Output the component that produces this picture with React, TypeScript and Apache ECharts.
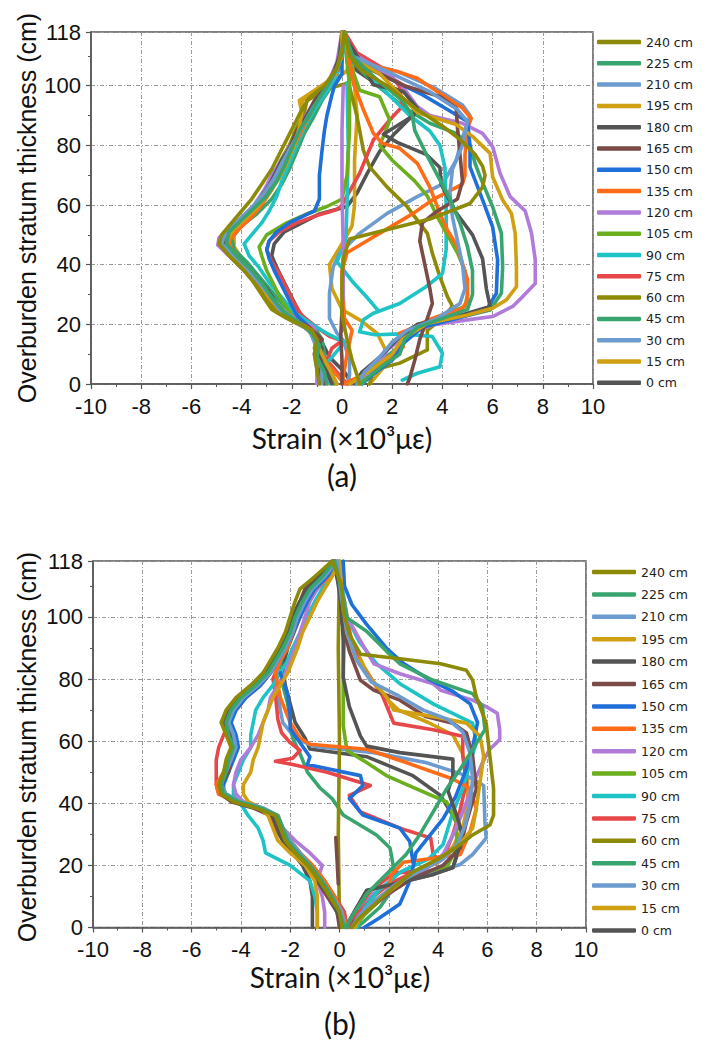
import React, { useEffect, useRef } from 'react';
import * as echarts from 'echarts';

const NAMES = ['0 cm','15 cm','30 cm','45 cm','60 cm','75 cm','90 cm','105 cm','120 cm','135 cm','150 cm','165 cm','180 cm','195 cm','210 cm','225 cm','240 cm'];
const COLORS = ['#545454','#D09F12','#6C9BD0','#38A56E','#8C8A06','#E8474A','#1DC3C5','#6BAF1E','#B17BDA','#FF6B17','#1F6FD8','#7A4B47','#545454','#D09F12','#6C9BD0','#38A56E','#8C8A06'];
const X_TICKS = [-10, 10, 2];
const Y_TICKS = [0, 118, 20];

// ---------------- Panel (a): [strain, height] ----------------
const a0 = [[0.4,0],[0.1,4],[-0.5,9],[-0.8,14],[-1.2,19],[-1.7,24],[-2.0,29],[-2.3,34],[-2.6,39],[-2.8,43],[-2.7,47],[-2.3,51],[-1.6,54],[-0.9,57],[0.2,59.5],[0.6,64],[1.0,70.5],[1.5,78],[2.1,84],[2.7,89],[2.9,93],[2.5,98],[1.3,101],[0.6,105],[0.2,110],[0.0,118]];
const a15 = [[-0.6,0],[-0.8,5],[-1.0,10],[-0.9,15],[-1.3,19],[-2.0,22],[-2.6,26],[-3.0,31],[-3.4,36],[-3.9,41],[-4.3,46],[-4.3,50],[-3.9,54],[-3.4,58],[-3.0,63],[-2.6,68],[-2.3,73],[-1.9,79],[-1.6,84],[-1.5,90],[-1.6,95],[-1.0,98],[-0.3,102],[0.2,105],[0.3,110],[0.1,118],[0.4,108],[0.5,100],[0.6,90],[0.5,75],[0.5,60],[0.4,53],[0.0,47],[-0.5,40],[-0.4,32],[0.0,25],[0.8,21],[1.4,17],[1.7,12],[1.8,7],[1.4,3],[1.1,0]];
const a30 = [[-0.5,0],[-0.7,5],[-0.9,10],[-1.0,15],[-1.4,19],[-2.1,23],[-2.7,27],[-3.1,32],[-3.6,37],[-4.1,42],[-4.6,46],[-4.6,49],[-4.2,53],[-3.6,57],[-3.1,62],[-2.7,67],[-2.3,72],[-2.0,78],[-1.6,84],[-1.2,90],[-0.8,96],[-0.4,101],[-0.1,107],[0.0,112],[0.1,118],[0.4,112],[0.7,108],[2.2,104.8],[3.75,99],[4.8,93.5],[5.1,90],[4.8,82.6],[4.55,75],[4.0,67],[3.0,62.8],[1.8,57.2],[0.7,50.5],[-0.1,43.8],[-0.35,39.3],[-0.5,30.4],[-0.5,22],[-0.2,17],[0.05,14.7],[0.3,8],[0.3,3],[0.2,0]];
const a45 = [[-0.3,0],[-0.6,5],[-0.7,10],[-0.8,15],[-1.1,19],[-1.7,22],[-2.3,26],[-2.8,31],[-3.3,36],[-3.8,41],[-4.3,45],[-4.4,49],[-4.0,53],[-3.4,57],[-2.8,62],[-2.4,67],[-2.1,72],[-1.8,78],[-1.5,84],[-1.1,90],[-0.8,95],[-0.4,100],[-0.1,106],[0.0,112],[0.1,118],[0.2,110],[1.25,101],[2.6,92],[3.5,87.4],[4.55,84],[5.1,80],[5.3,74],[5.5,69.5],[6.0,59.4],[6.35,50.5],[6.4,39.3],[6.35,30.4],[5.9,24.8],[5.0,23],[3.5,20.5],[2.6,17],[2.2,12],[1.6,8],[0.9,3],[0.6,0]];
const a60 = [[-0.9,0],[-1.0,4],[-0.8,8],[-1.1,12],[-1.0,16],[-1.5,19],[-2.2,22],[-2.8,25],[-3.2,30],[-3.6,35],[-4.1,40],[-4.6,44],[-4.8,47],[-4.4,51],[-3.9,55],[-3.5,59],[-3.1,64],[-2.8,69],[-2.5,74],[-2.1,80],[-1.8,86],[-1.5,91],[-1.4,95],[-0.6,99],[0.3,101],[0.2,108],[0.1,118],[0.3,105],[0.3,99.7],[0.6,89.6],[0.85,78.4],[1.1,72.8],[1.8,66],[2.6,59.4],[3.4,50.5],[3.6,43.8],[3.9,36],[4.2,29.3],[4.4,26],[4.0,22],[3.4,18],[3.4,11.4],[2.3,7],[1.25,4.7],[1.1,0]];
const a75 = [[0.2,0],[-0.2,4],[-0.6,8],[-0.4,12],[0.0,14.5],[-0.5,16],[-1.0,19],[-1.6,23],[-1.9,27],[-2.2,32],[-2.5,37],[-2.8,41],[-3.0,45],[-2.9,48],[-2.5,51],[-1.8,54],[-1.0,56.5],[-0.2,58.5],[0.0,60],[0.7,70.6],[1.25,81.8],[1.9,88.5],[2.4,93],[2.3,99.7],[1.8,105],[0.6,111],[0.1,118]];
const a90 = [[-0.7,0],[-0.9,4],[-0.5,8],[-0.2,11],[0.1,14],[-0.6,17],[-1.2,20],[-1.9,24],[-2.4,29],[-2.9,34],[-3.3,39],[-3.7,43],[-3.9,47],[-3.6,50],[-3.2,54],[-2.9,58],[-2.6,63],[-2.4,68],[-2.1,74],[-1.8,80],[-1.5,86],[-1.1,92],[-0.7,97],[-0.3,102],[0.0,108],[0.1,118],[0.5,108],[1.5,100],[2.7,90],[3.5,84.8],[3.9,80],[4.1,72.6],[4.15,60],[4.15,45],[4.0,37],[3.35,32.6],[2.3,27],[1.25,23.7],[0.85,21.5],[0.7,17.5],[1.3,16.5],[2.4,16.8],[3.6,15.9],[4.0,10.3],[3.9,5.8],[3.0,3.6],[2.4,1.3]];
const a90v = [[0.2,101],[0.25,80],[0.2,60],[0.15,48],[-0.2,41],[0.45,34],[1.0,29],[1.4,25]];
const a105 = [[-0.3,0],[-0.7,5],[-0.9,10],[-1.1,15],[-1.4,19],[-2.0,23],[-2.4,28],[-2.7,33],[-3.0,38],[-3.2,43],[-3.3,46],[-3.0,50],[-2.2,54],[-1.4,57],[-0.6,59.5],[0.0,62],[0.2,70],[0.3,85],[0.3,100],[0.2,110],[0.1,118],[0.3,108],[0.7,98.5],[1.5,96.3],[1.9,88.5],[1.7,84],[1.5,80],[2.0,75],[2.9,68],[3.4,63],[3.8,56],[4.2,50],[4.6,44],[4.9,38],[5.0,30],[4.9,26],[3.8,22.5],[2.8,19],[2.0,14],[1.6,9],[1.0,4],[0.7,0]];
const a120 = [[-1.0,0],[-1.0,5],[-1.1,10],[-1.0,15],[-1.1,19],[-1.6,21],[-2.3,24],[-2.8,28],[-3.3,33],[-3.9,38],[-4.5,43],[-4.95,46.5],[-4.9,49],[-4.5,52],[-4.0,56],[-3.5,60],[-3.1,65],[-2.8,70],[-2.4,75],[-2.0,81],[-1.7,86],[-1.3,92],[-0.9,97],[-0.5,102],[-0.2,108],[0.0,118],[0.6,110],[2.3,101],[3.0,93],[3.5,90],[4.8,87.4],[5.6,84],[6.0,79.6],[6.3,70.6],[6.7,62.8],[7.3,58],[7.55,50.5],[7.7,41.6],[7.7,33.7],[7.2,29.3],[6.8,26],[6.0,22.6],[5.0,21.5],[3.6,19.8],[2.5,16],[1.8,11.4],[1.4,5.8],[0.6,1.3],[0.3,0]];
const a120v = [[0.05,100],[0.0,85],[0.0,65],[0.05,45],[0.05,30],[0.1,18]];
const a135 = [[0.1,0],[-0.3,4],[-0.7,8],[-0.9,12],[-1.0,16],[-1.4,19],[-2.0,22],[-2.6,25],[-3.0,30],[-3.4,35],[-3.9,40],[-4.4,45],[-4.5,48],[-4.1,52],[-3.6,56],[-3.2,60],[-2.8,65],[-2.5,70],[-2.2,75],[-1.9,80],[-1.6,85],[-1.3,90],[-1.0,95],[-0.6,100],[-0.2,106],[0.0,112],[0.1,118],[0.3,108],[0.45,101],[0.85,92],[1.25,84],[1.6,80.7],[2.3,79],[3.0,74],[3.5,66],[3.9,57.2],[4.2,51.6],[4.6,46],[4.8,40.4],[5.0,35],[5.0,28],[4.8,25.4],[3.6,22],[2.8,18.7],[2.3,17],[2.45,12.5],[1.8,8],[0.7,2.5],[0.05,0]];
const a135b = [[0.1,117],[0.3,110],[0.85,107.5],[2.2,104.8],[3.0,102.5],[3.9,97.5],[4.8,92.5],[5.15,89],[5.0,86],[4.9,77],[4.9,70],[4.8,67],[3.6,61.7],[2.84,57.2],[2.0,53],[1.0,48],[0.2,44],[0.0,38],[0.0,30],[0.1,22],[0.4,18],[0.2,10],[0.0,0]];
const a150 = [[-0.2,0],[-0.5,5],[-0.8,10],[-1.0,15],[-1.3,19],[-1.8,23],[-2.1,28],[-2.4,33],[-2.7,38],[-2.9,42],[-3.0,45],[-2.9,48],[-2.6,51],[-2.1,54],[-1.6,56],[-1.1,58],[-0.9,62],[-0.9,70],[-0.8,78],[-0.7,85],[-0.6,90],[-0.4,97],[-0.3,100],[0.0,104],[0.0,110],[0.0,118],[0.4,110],[1.5,104],[3.2,97],[4.2,92],[5.0,88],[5.1,80],[5.1,72.8],[5.6,61.7],[6.0,52.7],[6.2,41.6],[6.15,30.4],[5.75,24.8],[4.6,22],[3.2,19],[2.5,14],[2.0,8],[1.2,3],[0.8,0]];
const a165 = [[-0.7,0],[-0.9,4],[-0.8,8],[-1.0,12],[-0.8,15],[-1.3,19],[-2.0,22],[-2.5,25],[-2.8,29],[-3.2,34],[-3.7,39],[-4.2,43],[-4.7,46],[-4.6,50],[-4.1,54],[-3.6,58],[-3.2,63],[-2.8,68],[-2.5,73],[-2.1,79],[-1.8,85],[-1.4,90],[-1.1,95],[-0.6,100],[-0.2,105],[0.0,110],[0.0,118],[0.5,108],[2.55,99.8],[3.9,96.4],[4.55,92.5],[4.6,86],[4.7,77],[4.8,68],[4.6,62],[3.8,58],[3.2,54],[3.1,48],[3.3,40],[3.5,32],[3.6,27],[3.4,22],[3.1,15],[2.9,8],[2.7,2],[2.6,0]];
const a165v = [[0.0,0],[0.0,8],[-0.05,16],[0.0,25]];
const a180 = [[-0.4,0],[-0.6,4],[-0.9,8],[-0.8,12],[-1.1,16],[-1.6,20],[-2.2,23],[-2.6,27],[-3.0,32],[-3.5,37],[-4.0,41],[-4.5,45],[-4.7,48],[-4.4,52],[-3.9,56],[-3.4,60],[-3.0,65],[-2.7,70],[-2.4,75],[-2.0,80],[-1.7,85],[-1.4,90],[-1.0,95],[-0.6,100],[-0.3,105],[-0.1,110],[0.0,118],[0.6,110],[1.25,100.3],[2.45,98],[3.0,92.5],[2.85,90],[1.65,83.7],[2.2,81],[3.35,77],[3.9,72.6],[3.95,67],[4.5,58],[5.2,50],[5.6,42],[5.75,32],[5.9,26],[4.5,22.5],[3.0,20],[2.2,15],[1.5,9],[0.8,4],[0.5,0]];
const a195 = [[-0.2,0],[-0.5,5],[-0.8,10],[-1.0,14],[-1.2,18],[-1.8,21],[-2.4,24],[-2.9,29],[-3.3,34],[-3.8,39],[-4.3,43],[-4.6,47],[-4.4,51],[-3.9,55],[-3.4,59],[-2.9,64],[-2.5,69],[-2.2,74],[-1.9,80],[-1.7,86],[-1.6,91],[-1.7,95],[-1.0,99],[-0.3,103],[0.0,110],[0.0,118],[0.3,110],[1.5,104],[3.0,91],[4.55,87],[5.2,83],[5.9,77.3],[6.0,69.5],[6.4,61.7],[6.75,57.2],[6.9,50.5],[6.95,39.3],[6.95,32.6],[6.55,28.2],[6.0,25.4],[5.0,23.1],[3.4,20.3],[2.4,15],[2.0,10],[1.2,5],[0.5,1],[0.3,0]];
const a210 = [[-0.8,0],[-0.8,5],[-1.0,9],[-1.1,14],[-1.3,18],[-1.9,21],[-2.5,25],[-2.9,30],[-3.4,35],[-3.9,40],[-4.4,44],[-4.8,47],[-4.6,51],[-4.1,55],[-3.6,59],[-3.1,64],[-2.7,69],[-2.4,74],[-2.0,80],[-1.6,86],[-1.2,92],[-0.8,97],[-0.4,102],[-0.1,108],[0.1,118],[0.4,110],[2.0,104],[3.5,98],[4.6,92],[5.0,88],[4.8,80],[4.4,72],[4.3,64],[4.4,56],[4.6,48],[4.8,40],[4.9,32],[4.7,27],[3.8,22],[2.6,18],[2.0,14],[1.5,9],[0.9,4],[0.6,0]];
const a225 = [[-0.6,0],[-0.7,4],[-1.0,9],[-0.9,13],[-1.2,17],[-1.6,20],[-2.3,24],[-2.8,29],[-3.2,34],[-3.7,39],[-4.2,43],[-4.6,47],[-4.5,51],[-4.0,55],[-3.5,59],[-3.0,63],[-2.6,68],[-2.3,73],[-2.0,79],[-1.7,85],[-1.3,90],[-0.9,96],[-0.5,101],[-0.2,106],[0.0,111],[0.1,118],[0.4,110],[1.4,102],[2.4,95],[2.8,90],[2.9,85],[3.3,78],[3.8,70],[4.3,62],[4.7,54],[5.0,46],[5.2,38],[5.2,30],[5.0,25],[4.0,22],[3.0,19],[2.5,15],[2.3,10],[1.6,6],[1.0,2],[0.8,0]];
const a240 = [[-0.9,0],[-1.0,5],[-1.1,10],[-1.0,15],[-1.2,18],[-1.9,21],[-2.6,24],[-3.0,28],[-3.4,33],[-3.9,38],[-4.5,43],[-4.9,47],[-4.8,50],[-4.4,54],[-4.0,58],[-3.6,62],[-3.2,67],[-2.8,72],[-2.5,77],[-2.2,82],[-1.9,87],[-1.6,92],[-1.3,96],[-0.7,100],[-0.2,106],[0.0,112],[0.1,118],[0.3,110],[0.8,105],[1.8,100],[3.0,92],[4.0,86.5],[4.7,82],[5.3,77],[5.6,73],[5.7,70],[5.6,66],[5.1,60.5],[3.5,55.3],[1.9,52],[0.3,48.6],[0.05,42],[0.0,35],[0.0,23],[0.2,15],[0.4,8],[0.6,3],[0.7,0]];

// ---------------- Panel (b) ----------------
const HB = [0,5,10,15,20,24,28,32,36,38.5,40.5,43,46,50,54,58,62,66,70,74,78,82,86,90,95,100,105,109,113,118];
const bL0 = [-1.1,-1.1,-1.1,-1.2,-1.5,-1.9,-2.3,-2.5,-2.7,-3.4,-4.3,-4.8,-4.9,-4.6,-4.5,-4.3,-4.5,-4.7,-4.5,-4.1,-3.5,-3.0,-2.7,-2.4,-2.1,-1.9,-1.6,-1.3,-0.8,-0.2];
const bL15 = [0.2,0.0,-0.3,-0.8,-1.3,-1.8,-2.2,-2.4,-2.6,-3.3,-4.2,-4.7,-4.8,-4.6,-4.4,-4.2,-4.3,-4.5,-4.3,-3.9,-3.3,-2.8,-2.5,-2.2,-1.9,-1.7,-1.5,-1.2,-0.7,-0.2];
const bL30 = [0.1,-0.1,-0.4,-0.8,-1.3,-1.8,-2.2,-2.4,-2.6,-3.3,-4.2,-4.8,-4.9,-4.7,-4.5,-4.3,-4.4,-4.6,-4.4,-4.0,-3.4,-2.9,-2.6,-2.3,-2.0,-1.8,-1.5,-1.2,-0.7,-0.2];
const bL45 = [0.3,0.1,-0.2,-0.7,-1.2,-1.7,-2.1,-2.4,-2.6,-3.3,-4.2,-4.8,-4.9,-4.7,-4.5,-4.3,-4.5,-4.7,-4.5,-4.1,-3.5,-3.0,-2.7,-2.4,-2.1,-1.9,-1.6,-1.3,-0.8,-0.2];
const bL75 = [0.3,0.2,-0.2,-0.6,-1.1,-1.6,-2.0,-2.3,-2.5,-3.2,-4.2,-4.9,-5.0,-5.0,-5.0,-4.9,-4.7,-4.5,-4.2,-3.8,-3.2,-2.8,-2.5,-2.2,-1.9,-1.7,-1.4,-1.2,-0.7,-0.2];
const bL90 = [-0.9,-0.9,-1.0,-1.2,-2.0,-3.0,-3.1,-3.3,-3.7,-3.9,-4.1,-4.3,-4.3,-4.1,-3.9,-3.6,-3.6,-3.5,-3.4,-3.1,-2.7,-2.4,-2.1,-1.9,-1.6,-1.3,-1.0,-0.7,-0.4,-0.1];
const bL120 = [-0.6,-0.6,-0.7,-0.9,-0.7,-1.2,-1.8,-2.3,-2.7,-3.2,-3.9,-4.2,-4.3,-4.2,-4.0,-3.6,-3.3,-3.1,-2.9,-2.8,-2.5,-2.2,-2.0,-1.8,-1.6,-1.4,-1.2,-0.9,-0.5,-0.1];
const bL135 = [0.3,0.1,-0.2,-0.6,-1.1,-1.6,-2.0,-2.3,-2.6,-3.3,-4.3,-4.9,-5.0,-4.7,-4.5,-4.3,-4.5,-4.7,-4.5,-4.1,-3.5,-3.0,-2.7,-2.4,-2.1,-1.8,-1.5,-1.2,-0.7,-0.2];
const bL150 = [0.2,0.0,-0.3,-0.8,-1.3,-1.8,-2.2,-2.4,-2.6,-3.3,-4.2,-4.7,-4.7,-4.5,-4.3,-4.1,-4.2,-4.4,-4.2,-3.8,-3.2,-2.8,-2.5,-2.2,-1.9,-1.6,-1.3,-1.0,-0.5,0.15];
const bL165 = [0.0,-0.1,-0.5,-0.9,-1.4,-1.9,-2.3,-2.6,-2.8,-3.5,-4.4,-4.8,-4.8,-4.5,-4.4,-4.2,-4.4,-4.7,-4.5,-4.1,-3.5,-3.0,-2.7,-2.4,-2.1,-1.9,-1.6,-1.4,-0.9,-0.3];
const bL180 = [0.1,-0.1,-0.4,-0.9,-1.4,-1.9,-2.3,-2.5,-2.7,-3.3,-4.2,-4.7,-4.8,-4.6,-4.5,-4.3,-4.4,-4.6,-4.4,-4.0,-3.5,-3.0,-2.7,-2.4,-2.1,-1.9,-1.6,-1.3,-0.8,-0.2];
const bL195 = [-0.9,-0.9,-0.9,-1.0,-1.4,-2.0,-2.5,-2.7,-2.9,-3.2,-3.7,-3.9,-3.9,-3.6,-3.5,-3.3,-3.2,-3.1,-2.9,-2.7,-2.4,-2.1,-1.9,-1.7,-1.5,-1.2,-0.9,-0.6,-0.3,0.0];
const bL210 = [0.2,0.1,-0.3,-0.7,-1.2,-1.6,-2.0,-2.3,-2.5,-3.1,-4.0,-4.6,-4.8,-4.6,-4.4,-4.2,-4.3,-4.5,-4.3,-3.9,-3.3,-2.8,-2.5,-2.2,-1.9,-1.7,-1.4,-1.1,-0.6,-0.1];
const bL225 = [0.2,0.0,-0.3,-0.7,-1.2,-1.7,-2.1,-2.3,-2.5,-3.2,-4.1,-4.7,-4.8,-4.6,-4.5,-4.3,-4.5,-4.6,-4.4,-4.0,-3.4,-2.9,-2.6,-2.3,-2.0,-1.8,-1.5,-1.2,-0.7,-0.2];
const bL240 = [0.1,0.0,-0.4,-0.8,-1.3,-1.8,-2.2,-2.4,-2.6,-3.4,-4.3,-4.8,-4.9,-4.7,-4.6,-4.4,-4.6,-4.8,-4.6,-4.2,-3.6,-3.1,-2.8,-2.5,-2.2,-2.0,-1.8,-1.6,-1.0,-0.3];

const bR0 = [[-0.2,118],[-0.6,112],[-1.1,107],[-1.5,102],[-1.8,96],[-2.1,90],[-2.3,84],[-2.2,78],[-2.0,72],[-1.8,66],[-1.4,61],[-1.2,57.5],[1.1,55],[2.95,49],[4.1,42.5],[4.6,36],[5.0,30],[4.8,24],[4.6,19.3],[3.8,17.1],[2.7,15],[1.1,11.9],[0.4,2.3],[0.3,0]];
const bR15 = [[-0.2,118],[0.2,105],[0.5,92],[1.0,84],[1.6,76],[2.4,70],[3.6,66],[4.6,62],[5.0,56],[5.2,48],[5.2,40],[5.0,32],[4.6,26],[4.0,21],[3.1,18],[2.3,14],[1.5,9],[0.8,4],[0.5,0]];
const bR30 = [[-0.2,118],[-0.5,112],[-1.1,108],[-1.5,103],[-1.8,97],[-2.1,91],[-2.4,86],[-2.6,81],[-2.5,76],[-2.4,70],[-2.3,66],[-1.8,61],[-1.05,58.4],[1.4,56.3],[3.5,53.1],[5.15,48.9],[5.85,45.7],[5.9,34],[5.95,28.8],[5.4,23.5],[4.9,20.3],[3.5,17],[2.4,15],[1.4,11],[0.7,5],[0.4,0]];
const bR45 = [[-0.2,118],[-0.5,112],[-1.2,107],[-1.6,102],[-1.9,96],[-2.2,90],[-2.4,85],[-2.3,78],[-2.1,72],[-2.0,66],[-1.9,61],[-1.6,56],[-1.3,50],[-0.8,45],[-0.3,41.5],[0.15,36.2],[1.5,29.8],[2.05,25.6],[2.2,19],[2.2,12.9],[1.65,6.6],[1.0,2],[0.7,0]];
const b60 = [[0.0,0],[-0.05,30],[0.0,60],[-0.05,90],[0.0,118]];
const bR75 = [[-0.2,118],[-0.5,112],[-1.1,108],[-1.5,103],[-1.8,97],[-2.1,91],[-2.4,86],[-2.7,80],[-2.6,75],[-2.5,67],[-2.35,62.7],[-2.0,59.5],[-1.6,57],[-1.9,54.5],[-2.6,53.5],[-1.9,52.5],[-0.5,50],[1.25,45.7],[0.4,42.5],[0.85,37.2],[2.45,32],[3.7,28.8],[3.8,23.5],[4.1,21.5],[3.25,18.2],[2.2,17.5],[1.3,12],[0.7,6],[0.5,0]];
const bX75 = [[0.1,108],[0.4,95],[0.8,85],[1.65,76.4],[2.2,65.8],[3.8,63.7],[5.0,61.6],[5.0,55.2],[5.15,46.8],[4.9,38],[4.6,30],[4.3,24],[3.6,20],[2.8,17],[2.0,14],[1.4,10],[0.8,5],[0.4,0]];
const bR90 = [[-0.1,118],[0.1,110],[0.3,100],[0.8,92],[1.5,85],[2.45,78.5],[3.8,72],[5.4,65.8],[5.55,59.5],[5.3,53.1],[5.0,44.7],[4.6,37.2],[4.2,26.7],[3.6,22],[2.5,18],[1.6,12],[1.0,6],[0.7,0]];
const b105 = [[0.6,0],[1.0,4],[1.8,10],[2.8,16],[3.8,18.5],[4.35,19.3],[4.75,25.6],[4.75,34],[4.35,40.4],[3.1,44.7],[1.9,48.9],[1.1,53.1],[0.3,57],[0.15,65],[0.15,80],[0.2,95],[0.1,105],[0.0,118]];
const bR120 = [[-0.1,118],[0.1,108],[0.3,100],[0.85,92.3],[1.4,84.9],[2.45,81.7],[3.8,78.5],[4.1,76.4],[5.4,73.2],[5.95,71.1],[6.4,69],[6.5,63.7],[6.5,60.5],[6.1,57.4],[5.8,53.1],[5.4,45.7],[5.0,37.2],[4.6,29.8],[4.2,23.5],[3.4,18],[2.4,13],[1.5,8],[0.8,3],[0.6,0]];
const bR135 = [[-0.2,118],[-0.4,113],[-1.0,109],[-1.3,105],[-1.6,100],[-1.9,95],[-2.1,90],[-2.4,86],[-2.6,82],[-2.5,78],[-2.4,74],[-2.2,70],[-2.0,66],[-1.6,61],[-1.2,59],[1.1,57.4],[2.7,53.1],[4.6,47.8],[5.3,44.7],[5.55,38.3],[5.3,30.9],[4.9,23.5],[3.5,22],[2.6,21],[2.1,17],[2.0,12],[1.4,8],[0.8,3],[0.6,0]];
const bR150 = [[0.15,118],[0.2,110],[0.5,104],[1.1,97.6],[1.9,90],[2.6,85],[3.6,80],[4.6,76],[5.3,72],[5.6,66],[5.4,58],[5.1,50],[4.7,42],[4.2,35],[3.6,29],[3.1,24],[3.0,20],[2.8,14],[2.45,7.6],[1.6,3],[1.0,0]];
const bX150 = [[-2.4,82],[-2.1,75],[-2.0,68],[-2.0,64],[-1.6,59.5],[-1.2,55],[-1.3,52.5],[0.85,48.9],[0.95,45.7],[0.4,41.5],[0.95,36.2],[2.45,32],[2.85,27.7],[3.0,20.3]];
const bR165 = [[-0.3,118],[0.0,110],[0.05,105],[0.1,98],[0.4,89],[0.85,79.6],[1.4,76.4],[2.45,73.2],[3.5,67.9],[4.6,65.8],[5.15,62.6],[5.4,55.2],[5.55,44.7],[5.15,34],[4.9,25.6],[4.2,20],[3.0,16],[2.0,11],[1.2,6],[0.6,2],[0.5,0]];
const bX165 = [[-0.15,29],[-0.1,22],[-0.05,14]];
const bR180 = [[-0.2,118],[0.05,105],[0.1,100],[0.15,92.3],[0.15,80.6],[0.4,71.1],[0.85,61.6],[1.1,58.4],[2.45,56.3],[4.6,54.2],[4.6,48.9],[4.4,44],[4.75,36.2],[5.0,29.8],[4.6,19.3],[3.8,17.1],[2.7,15],[1.1,11.9],[0.4,2.3],[0.3,0]];
const bR195 = [[0.0,118],[0.1,108],[0.3,95],[0.6,88],[1.1,81.7],[1.9,74.3],[2.2,70],[3.8,67.9],[5.15,65.8],[5.7,61.6],[5.85,55.2],[5.7,46.8],[5.55,38.3],[5.4,32],[4.9,27],[4.0,22],[3.0,18],[2.4,14],[1.6,9],[0.9,4],[0.6,0]];
const bR210 = [[-0.1,118],[0.1,105],[0.3,95],[0.7,86],[1.3,79],[2.3,75],[3.4,70],[4.4,67],[5.0,63],[5.3,56],[5.4,48],[5.3,40],[5.1,33],[4.8,27],[4.2,22],[3.2,18],[2.3,14],[1.5,9],[0.8,4],[0.5,0]];
const bR225 = [[-0.2,118],[0.1,108],[0.3,99.7],[1.1,95.4],[1.9,89],[2.45,84.9],[3.8,79.6],[5.4,75.3],[5.8,71.1],[5.9,63.7],[5.4,57.4],[4.9,51],[4.35,44.7],[3.8,37.2],[3.25,29.8],[2.7,23.5],[1.9,17.1],[1.1,10.8],[0.4,2.3],[0.3,0]];
const bR240 = [[-0.3,118],[0.1,110],[0.15,101.8],[0.4,94.4],[0.85,88],[2.45,86.5],[4.1,84.9],[5.15,82.8],[5.4,79.6],[5.55,74.3],[5.95,65.8],[6.1,55.2],[6.25,44.7],[6.25,36.2],[6.1,33],[5.4,29.8],[4.9,26.7],[4.0,22],[3.0,18],[2.2,13],[1.5,8],[0.8,3],[0.5,0]];

// ---------------- assembly ----------------
const zipH = (xs: number[]) => xs.map((x, i) => [x, HB[i]]);
const BREAK: any = ['-', '-'];
const joinSegs = (segs: any[][]) => {
  const out: any[] = [];
  segs.forEach((s, i) => { if (i > 0) out.push(BREAK); s.forEach((p) => out.push(p)); });
  return out;
};

const PANEL_A: any[][][] = [
  [a0], [a15], [a30], [a45], [a60], [a75], [a90, a90v], [a105], [a120, a120v],
  [a135, a135b], [a150], [a165, a165v], [a180], [a195], [a210], [a225], [a240],
];
const PANEL_B: any[][][] = [
  [[...zipH(bL0), ...bR0]],
  [[...zipH(bL15), ...bR15]],
  [[...zipH(bL30), ...bR30]],
  [[...zipH(bL45), ...bR45]],
  [b60],
  [[...zipH(bL75), ...bR75], bX75],
  [[...zipH(bL90), ...bR90]],
  [b105],
  [[...zipH(bL120), ...bR120]],
  [[...zipH(bL135), ...bR135]],
  [[...zipH(bL150), ...bR150], bX150],
  [[...zipH(bL165), ...bR165], bX165],
  [[...zipH(bL180), ...bR180]],
  [[...zipH(bL195), ...bR195]],
  [[...zipH(bL210), ...bR210]],
  [[...zipH(bL225), ...bR225]],
  [[...zipH(bL240), ...bR240]],
];

const AX = '#555';
const GRIDLINE = { show: true, lineStyle: { color: '#9a9a9a', width: 1, type: [4, 2, 1, 2] as any } };
const TICKFONT = { fontSize: 22, fontFamily: '"Liberation Sans", Arial, sans-serif', color: '#111' };

const makeX = (gi: number) => ({
  gridIndex: gi, type: 'value', min: X_TICKS[0], max: X_TICKS[1], interval: X_TICKS[2],
  axisLine: { show: true, onZero: false, lineStyle: { color: AX, width: 1.5 } },
  axisTick: { show: true, inside: false, length: 5, lineStyle: { color: AX, width: 1.2 } },
  minorTick: { show: true, splitNumber: 2, length: 3, lineStyle: { color: AX, width: 1 } },
  axisLabel: { ...TICKFONT, margin: 11 },
  splitLine: GRIDLINE,
});
const makeY = (gi: number) => ({
  gridIndex: gi, type: 'value', min: Y_TICKS[0], max: Y_TICKS[1], interval: Y_TICKS[2],
  axisLine: { show: true, onZero: false, lineStyle: { color: AX, width: 1.5 } },
  axisTick: { show: true, inside: false, length: 5, lineStyle: { color: AX, width: 1.2 } },
  minorTick: { show: true, splitNumber: 2, length: 3, lineStyle: { color: AX, width: 1 } },
  axisLabel: { ...TICKFONT, margin: 10 },
  splitLine: GRIDLINE,
});

const legendCommon = {
  orient: 'vertical', data: [...NAMES].reverse(), itemWidth: 44, itemHeight: 4.5, icon: 'roundRect', padding: 0,
  textStyle: { fontFamily: '"DejaVu Sans", sans-serif', fontSize: 12.5, color: '#222', lineHeight: 14 },
};

const makeSeries = (panel: any[][][], gi: number) => panel.map((segs, i) => ({
  name: NAMES[i], type: 'line', xAxisIndex: gi, yAxisIndex: gi, data: joinSegs(segs),
  symbol: 'none', showSymbol: false, connectNulls: false, color: COLORS[i],
  lineStyle: { width: 3.6, color: COLORS[i], cap: 'round', join: 'round' },
  emphasis: { disabled: true },
}));

const TITLE_FONT = '"Liberation Sans", Arial, sans-serif';
const LABEL_FONT = 'Lato, "Open Sans", sans-serif';
const txt = (text: string, x: number, y: number, size: number, family: string, rot = 0) => ({
  type: 'text', x, y, rotation: rot, silent: true,
  style: { text, fill: '#111', fontSize: size, fontFamily: family, align: 'center', verticalAlign: 'middle', textAlign: 'center', textVerticalAlign: 'middle' },
});

const option: any = {
  animation: false,
  backgroundColor: '#fff',
  grid: [
    { left: 91, top: 32, width: 502, height: 352, show: true, borderColor: AX, borderWidth: 1.5, backgroundColor: 'transparent' },
    { left: 93, top: 561, width: 493, height: 366.5, show: true, borderColor: AX, borderWidth: 1.5, backgroundColor: 'transparent' },
  ],
  xAxis: [makeX(0), makeX(1)],
  yAxis: [makeY(0), makeY(1)],
  legend: [
    { ...legendCommon, left: 597, top: 35, itemGap: 7.3 },
    { ...legendCommon, left: 592, top: 565, itemGap: 8.4 },
  ],
  series: [...makeSeries(PANEL_A, 0), ...makeSeries(PANEL_B, 1)],
  graphic: [
    txt('Overburden stratum thickness (cm)', 27, 208, 25, TITLE_FONT, Math.PI / 2),
    txt('Overburden stratum thickness (cm)', 27, 747, 25, TITLE_FONT, Math.PI / 2),
    txt('Strain (×10³με)', 342, 438, 28, LABEL_FONT),
    txt('(a)', 342, 475, 30, LABEL_FONT),
    txt('Strain (×10³με)', 340, 977, 28, LABEL_FONT),
    txt('(b)', 340, 1023, 30, LABEL_FONT),
  ],
};

export default function App() {
  const ref = useRef<HTMLDivElement>(null);
  useEffect(() => {
    if (!ref.current) return;
    const chart = echarts.init(ref.current, null, { renderer: 'svg' });
    chart.setOption(option);
    return () => chart.dispose();
  }, []);
  return <div ref={ref} style={{ position: 'absolute', left: 0, top: 0, width: 708, height: 1047, background: '#fff' }} />;
}
